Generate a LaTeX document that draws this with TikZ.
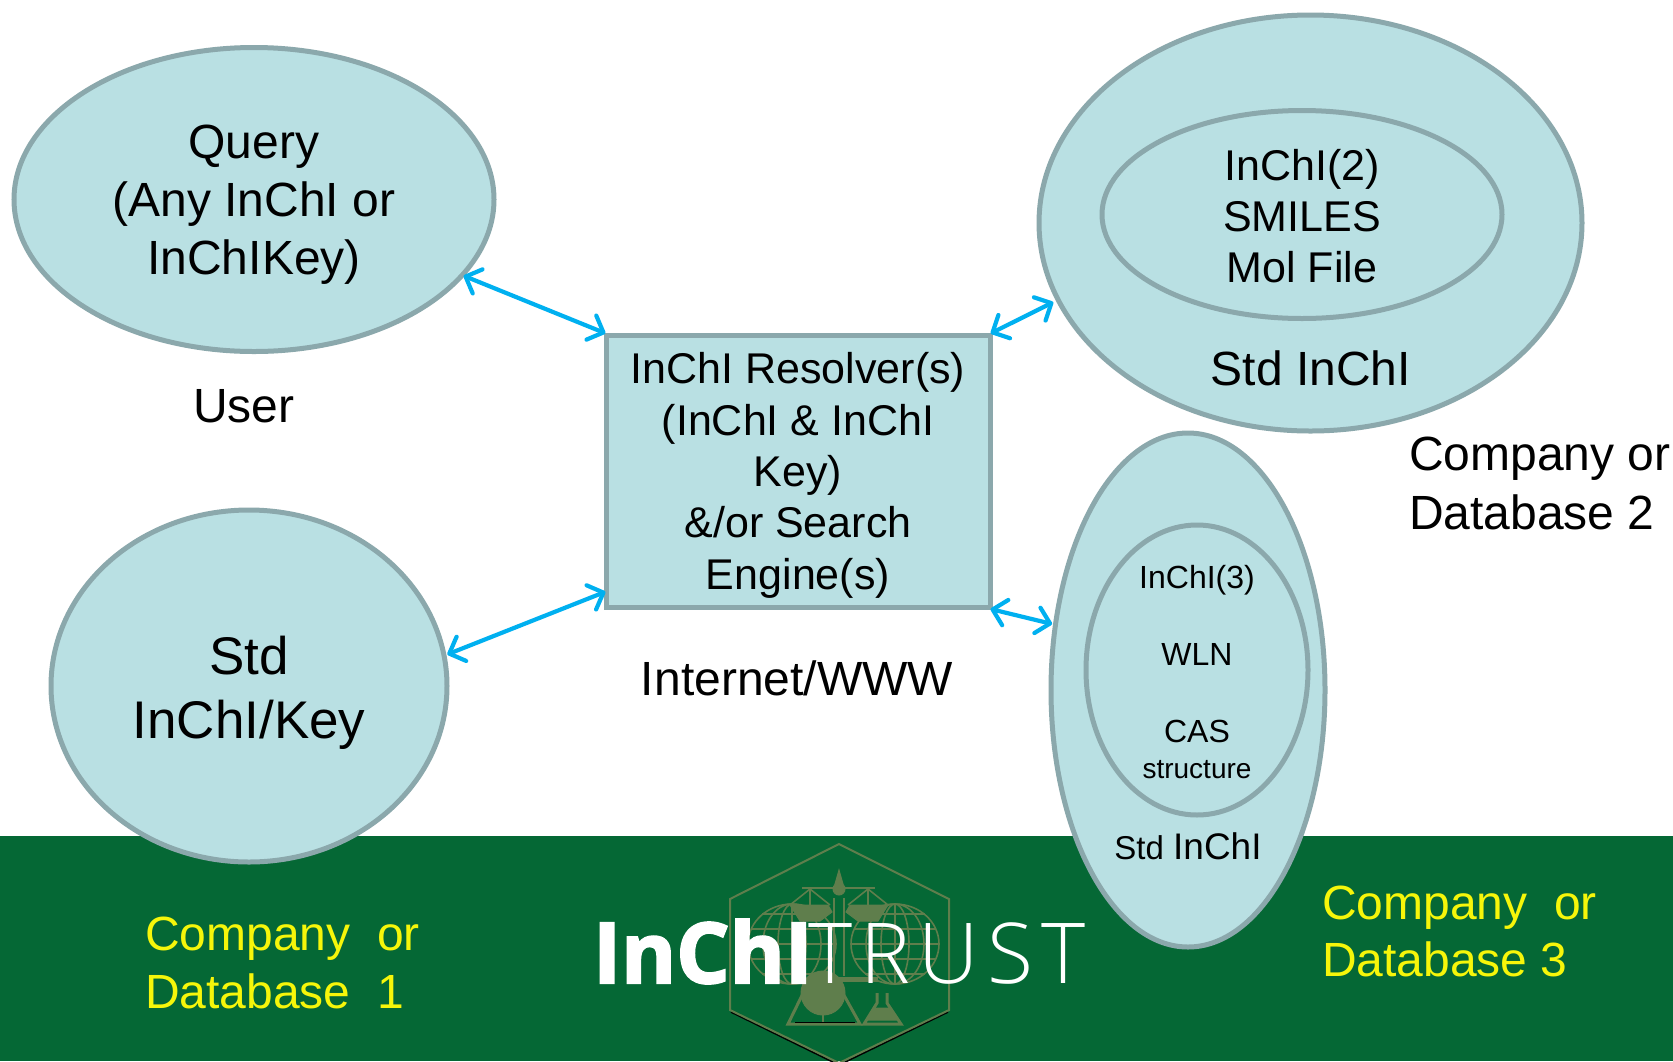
\documentclass[tikz,border=0pt]{standalone}
\usepackage{fontspec}
\setmainfont{Liberation Sans}
\newfontfamily\logobold{Open Sans}[UprightFont=* Bold,FakeBold=2.5]
\newfontfamily\logolight{Open Sans Light}[LetterSpace=10]
\usetikzlibrary{shapes.geometric,arrows.meta}
\definecolor{bubble}{HTML}{B9E0E3}
\definecolor{rim}{HTML}{8BA8AC}
\definecolor{band}{HTML}{056835}
\definecolor{olive}{HTML}{5F7E4C}
\definecolor{link}{HTML}{00B0F0}
\definecolor{lab}{HTML}{F6F60A}
\newcommand{\fs}[2]{\fontsize{#1}{#2}\selectfont}
\tikzset{
  oval/.style={ellipse,draw=rim,fill=bubble,line width=5pt,inner sep=0pt,align=center,text=black},
  resolver/.style={rectangle,draw=rim,fill=bubble,line width=5pt,inner sep=0pt,align=center,text=black},
  conn/.style={draw=link,line width=4.2pt,line cap=round,{Straight Barb[length=13pt,width=26pt,line width=4.2pt,round]}-{Straight Barb[length=13pt,width=26pt,line width=4.2pt,round]}},
  caption/.style={align=left,inner sep=0pt,text=black},
  textonly/.style={align=center,inner sep=0pt,text=black},
  yellowlab/.style={align=left,inner sep=0pt,text=lab},
  logoline/.style={draw=olive,line width=1.6pt},
  logofill/.style={fill=olive,draw=olive,line width=1pt}
}
\begin{document}
\begin{tikzpicture}[x=1pt,y=-1pt]
\useasboundingbox (0,0) rectangle (1673,1061);
\fill[white] (0,0) rectangle (1673,1061);
\fill[band] (0,836) rectangle (1673,1061);
% logo emblem
\draw[black,line width=1.6pt] (731,1012) -- (839,1065) -- (948,1012);
\draw[logoline,line width=2pt] (839,844) -- (949,899) -- (949,1010) -- (839,1063) -- (730,1010) -- (730,899) -- cycle;
\foreach \cx in {792,895}{
  \draw[logoline] (\cx,944) ellipse [x radius=44,y radius=40];
  \draw[logoline] (\cx,944) ellipse [x radius=29,y radius=40];
  \draw[logoline] (\cx,944) ellipse [x radius=14,y radius=40];
  \draw[logoline] (\cx,904) -- (\cx,984);
  \draw[logoline] (\cx-44,944) -- (\cx+44,944);
  \draw[logoline] (\cx-41,929) -- (\cx+41,929);
  \draw[logoline] (\cx-41,959) -- (\cx+41,959);
  \draw[logoline] (\cx-30,914) -- (\cx+30,914);
  \draw[logoline] (\cx-30,974) -- (\cx+30,974);
}
\fill[logofill] (839,870) -- (843,884) -- (835,884) -- cycle;
\fill[logofill] (839,889) circle (6);
\draw[logoline,line width=2.4pt] (834,898) -- (834,976) (844,898) -- (844,976);
\draw[logoline,line width=2.4pt] (802,888) -- (875,888);
\fill[logofill] (790,905) -- (828,905) -- (832,912) -- (820,921) -- (800,921) -- cycle;
\fill[logofill] (888,905) -- (850,905) -- (846,912) -- (858,921) -- (878,921) -- cycle;
\draw[logoline] (810,889) -- (790,905) (810,889) -- (830,905) (810,889) -- (810,905);
\draw[logoline] (868,889) -- (848,905) (868,889) -- (888,905) (868,889) -- (868,905);
\fill[logofill] (823,993) circle (22);
\fill[logofill] (813,977) rectangle (877,981);
\draw[logoline,line width=3pt] (810,979) -- (788,1024) -- (860,1024) -- (835,979);
\draw[logoline,line width=2.4pt] (823,1003) -- (823,1024);
\draw[black,line width=1pt] (795,1022) -- (855,1022);
\draw[logoline,line width=3pt] (877,993) -- (877,1003) -- (864,1024) -- (901,1024) -- (887,1003) -- (887,993);
\fill[logofill] (874,1008) -- (890,1008) -- (897,1020) -- (868,1020) -- cycle;
% logo words
\node[inner sep=0pt,anchor=base west,text=white,font=\logobold\fs{84}{84}] (inchiword) at (593,983) {InChI};
\node[inner sep=0pt,anchor=base west,text=white,font=\logolight\fs{84}{84}] (trustword) at (808,983) {TRUST};
% shapes
\node[oval,minimum width=480pt,minimum height=304pt] (query) at (254,199.5) {};
\node[oval,minimum width=396pt,minimum height=352pt] (stdkey) at (249,686) {};
\node[oval,minimum width=543pt,minimum height=416pt] (dbtwo) at (1310.5,223) {};
\node[oval,minimum width=400pt,minimum height=208pt] (dbtwoin) at (1302,214.5) {};
\node[oval,minimum width=274pt,minimum height=514pt] (dbthree) at (1188,690) {};
\node[oval,minimum width=222pt,minimum height=290pt] (dbthreein) at (1197,670) {};
\node[resolver,minimum width=384pt,minimum height=272pt] (res) at (798,471) {};
% texts inside the shapes
\node[textonly,font=\fs{48}{58}] (querytext) at (254,205) {Query\\(Any InChI or\\InChIKey)};
\node[textonly,font=\fs{53}{64}] (stdkeytext) at (249,692.5) {Std\\InChI/Key};
\node[textonly,font=\fs{43}{51}] (dbtwointext) at (1302,216.5) {InChI(2)\\SMILES\\Mol File};
\node[textonly,font=\fs{32}{38.4}] (dbthreeintext) at (1197,672) {InChI(3)\\\mbox{}\\WLN\\\mbox{}\\CAS\\[-2pt]{\fs{28}{36}structure}};
\node[textonly,font=\fs{43}{51.4}] (restext) at (798,475.3) {InChI Resolver(s)\\(InChI \& InChI\\Key)\\\&/or Search\\Engine(s)};
% captions
\node[caption,font=\fs{48}{50}] (stdtwo) at (1311,368) {Std InChI};
\node[caption,font=\fs{33}{40}] (stdthree) at (1188,846) {Std {\fs{37}{40}InChI}};
\node[caption,font=\fs{48}{50}] (userlab) at (244,406) {User};
\node[caption,font=\fs{48}{50}] (netlab) at (797,678) {Internet/WWW};
\node[caption,anchor=west,font=\fs{48}{58.5}] (dbtwolab) at (1409,483.5) {Company or\\Database 2};
\node[yellowlab,anchor=west,font=\fs{48}{58}] (dbonelab) at (145,962.5) {Company\ \ or\\Database\ \ 1};
\node[yellowlab,anchor=west,font=\fs{48}{57}] (dbthreelab) at (1322,931) {Company\ \ or\\Database 3};
% connectors
\draw[conn,shorten <=-1pt,shorten >=-2pt] (query.-20.5) -- (res.north west);
\draw[conn,shorten <=1pt,shorten >=-2pt] (stdkey.9.5) -- (res.212);
\draw[conn,shorten <=-2pt,shorten >=3pt] (res.north east) -- (dbtwo.197.8);
\draw[conn,shorten <=-2pt,shorten >=1pt] (res.south east) -- (dbthree.154);
\end{tikzpicture}
\end{document}
